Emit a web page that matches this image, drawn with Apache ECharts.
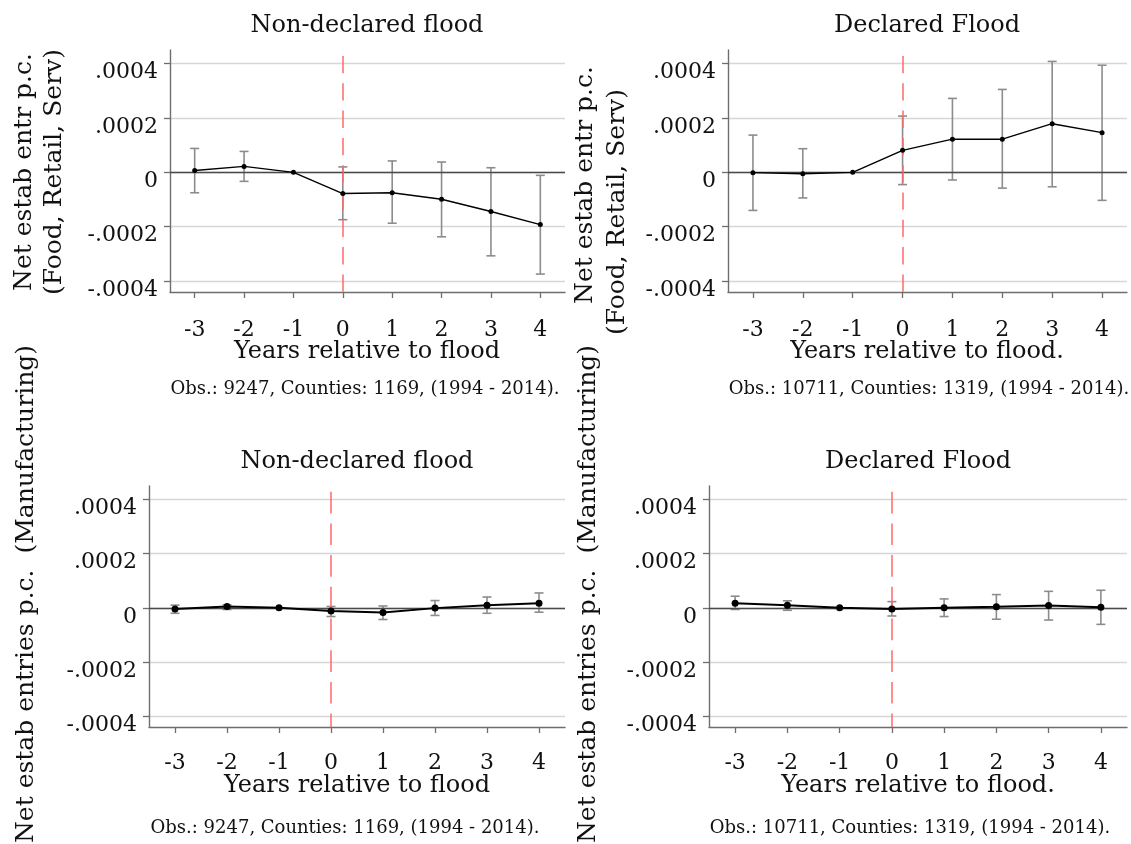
<!DOCTYPE html>
<html>
<head>
<meta charset="utf-8">
<script src="https://cdn.jsdelivr.net/npm/echarts@6/dist/echarts.min.js"></script>
<style>
  html, body { margin: 0; padding: 0; background: #fff; }
  #chart { width: 1131px; height: 844px; }
</style>
</head>
<body>
<div id="chart"></div>
<script>
// Event-study coefficients (point estimate and 95% CI) by year relative to flood
const years = [-3, -2, -1, 0, 1, 2, 3, 4];
const yTicks = [-0.0004, -0.0002, 0, 0.0002, 0.0004];
const yTickLabels = ['-.0004', '-.0002', '0', '.0002', '.0004'];

// Net establishment entries p.c., Food/Retail/Services — non-declared floods
const frsNonDeclEst = [0.000007, 0.000022, 0, -0.000078, -0.000075, -0.000099, -0.000144, -0.000192];
const frsNonDeclHi  = [0.000088, 0.000077, null, 0.000020, 0.000042, 0.000038, 0.000017, -0.000011];
const frsNonDeclLo  = [-0.000075, -0.000033, null, -0.000174, -0.000187, -0.000237, -0.000307, -0.000374];

// Food/Retail/Services — declared floods
const frsDeclEst = [-0.000001, -0.000005, 0, 0.000081, 0.000122, 0.000122, 0.000179, 0.000146];
const frsDeclHi  = [0.000137, 0.000087, null, 0.000207, 0.000272, 0.000305, 0.000408, 0.000394];
const frsDeclLo  = [-0.000140, -0.000094, null, -0.000045, -0.000028, -0.000058, -0.000053, -0.000103];

// Manufacturing — non-declared floods
const mfgNonDeclEst = [-0.000004, 0.000005, 0, -0.000012, -0.000017, -0.000001, 0.000010, 0.000017];
const mfgNonDeclHi  = [0.000010, 0.000011, null, 0.000005, 0.000007, 0.000027, 0.000040, 0.000055];
const mfgNonDeclLo  = [-0.000020, -0.000006, null, -0.000032, -0.000043, -0.000028, -0.000020, -0.000016];

// Manufacturing — declared floods
const mfgDeclEst = [0.000017, 0.000010, 0, -0.000004, 0, 0.000004, 0.000009, 0.000002];
const mfgDeclHi  = [0.000043, 0.000026, null, 0.000023, 0.000033, 0.000049, 0.000061, 0.000065];
const mfgDeclLo  = [-0.000006, -0.000009, null, -0.000030, -0.000032, -0.000042, -0.000045, -0.000061];

const panelTitles = ['Non-declared flood', 'Declared Flood', 'Non-declared flood', 'Declared Flood'];
const xTitles = ['Years relative to flood', 'Years relative to flood.', 'Years relative to flood', 'Years relative to flood.'];
const notes = [
  'Obs.: 9247, Counties: 1169, (1994 - 2014).',
  'Obs.: 10711, Counties: 1319, (1994 - 2014).',
  'Obs.: 9247, Counties: 1169, (1994 - 2014).',
  'Obs.: 10711, Counties: 1319, (1994 - 2014).'
];
const yTitleFrs = ['Net estab entr p.c.', '(Food, Retail, Serv)'];
const yTitleMfg = 'Net estab entries p.c.  (Manufacturing)';

const FONT = '"DejaVu Serif", "Liberation Serif", serif';
const Y_MIN = -0.00044, Y_MAX = 0.00045;

const panels = [
  { est: frsNonDeclEst, lo: frsNonDeclLo, hi: frsNonDeclHi,
    grid: { left: 170, top: 50, width: 395, height: 242 }, labelMargin: 27, big: false, dash: [17.3, 10], dashOffset: 21.3 },
  { est: frsDeclEst, lo: frsDeclLo, hi: frsDeclHi,
    grid: { left: 728, top: 50, width: 399, height: 242 }, labelMargin: 27, big: false, dash: [17.3, 10], dashOffset: 21.3 },
  { est: mfgNonDeclEst, lo: mfgNonDeclLo, hi: mfgNonDeclHi,
    grid: { left: 149, top: 486, width: 416, height: 241 }, labelMargin: 25, big: true, dash: [21.7, 10], dashOffset: 26 },
  { est: mfgDeclEst, lo: mfgDeclLo, hi: mfgDeclHi,
    grid: { left: 709, top: 486, width: 418, height: 241 }, labelMargin: 25, big: true, dash: [21.7, 10], dashOffset: 26 }
];

const grids = [], xAxes = [], yAxes = [], series = [];

panels.forEach((p, i) => {
  grids.push(Object.assign({ containLabel: false }, p.grid));

  xAxes.push({
    type: 'value', gridIndex: i, min: -3.5, max: 4.5,
    axisLine: { show: true, onZero: false, lineStyle: { color: '#6e6e6e', width: 1.4 } },
    axisTick: { show: true, length: 6, customValues: years, lineStyle: { color: '#6e6e6e', width: 1.3 } },
    axisLabel: { customValues: years, margin: p.labelMargin, fontFamily: FONT, fontSize: 22, color: '#111',
                 formatter: v => String(v) },
    splitLine: { show: false }
  });

  yAxes.push({
    type: 'value', gridIndex: i, min: Y_MIN, max: Y_MAX,
    axisLine: { show: true, onZero: false, lineStyle: { color: '#6e6e6e', width: 1.4 } },
    axisTick: { show: true, length: 6, customValues: yTicks, lineStyle: { color: '#6e6e6e', width: 1.3 } },
    axisLabel: { customValues: yTicks, margin: 12, fontFamily: FONT, fontSize: 22, color: '#111',
                 verticalAlign: 'top', lineHeight: 18,
                 formatter: v => {
                   const k = yTicks.findIndex(t => Math.abs(t - v) < 1e-9);
                   return k >= 0 ? yTickLabels[k] : '';
                 } },
    splitLine: { show: true, showMinLine: true, showMaxLine: true, lineStyle: { color: '#d6d6d6', width: 1.3 } }
  });

  // confidence intervals with end caps
  const ciData = years.map((x, k) => [x, p.lo[k], p.hi[k]]).filter(d => d[1] !== null);
  series.push({
    type: 'custom', xAxisIndex: i, yAxisIndex: i, silent: true, z: 3,
    data: ciData,
    renderItem: (params, api) => {
      const x = api.value(0);
      const top = api.coord([x, api.value(2)]);
      const bot = api.coord([x, api.value(1)]);
      const cap = 4.5;
      const style = { stroke: '#8c8c8c', lineWidth: 1.6, fill: null };
      return {
        type: 'group',
        children: [
          { type: 'line', shape: { x1: top[0], y1: top[1], x2: bot[0], y2: bot[1] }, style },
          { type: 'line', shape: { x1: top[0] - cap, y1: top[1], x2: top[0] + cap, y2: top[1] }, style },
          { type: 'line', shape: { x1: bot[0] - cap, y1: bot[1], x2: bot[0] + cap, y2: bot[1] }, style }
        ]
      };
    }
  });

  // point estimates, plus zero reference line and flood-year marker
  series.push({
    type: 'line', xAxisIndex: i, yAxisIndex: i, silent: true, z: 5,
    data: years.map((x, k) => [x, p.est[k]]),
    symbol: 'circle', symbolSize: p.big ? 7 : 5,
    itemStyle: { color: '#000' },
    lineStyle: { color: '#000', width: p.big ? 2 : 1.4 },
    markLine: {
      silent: true, symbol: 'none', label: { show: false }, animation: false,
      data: [
        [{ coord: [-3.5, 0], lineStyle: { color: '#4a4a4a', width: 1.4, type: 'solid' } }, { coord: [4.5, 0] }],
        [{ coord: [0, Y_MAX], lineStyle: { color: '#ff6b6b', width: 1.5, type: p.dash, dashOffset: p.dashOffset } },
         { coord: [0, Y_MIN] }]
      ]
    }
  });
});

function txt(x, y, text, size, extra) {
  return Object.assign({
    type: 'text', x, y, silent: true,
    style: { text, fontFamily: FONT, fontSize: size, fill: '#111', align: 'center', verticalAlign: 'middle' }
  }, extra || {});
}

const centers = [367, 927, 357, 918];
const titleY = [26, 26, 462, 462];
const xTitleY = [352, 352, 786, 786];
const noteX = [365, 929, 345, 910];
const noteY = [389, 389, 828, 828];

const graphics = [];
for (let i = 0; i < 4; i++) {
  graphics.push(txt(centers[i], titleY[i], panelTitles[i], 24));
  graphics.push(txt(centers[i], xTitleY[i], xTitles[i], 24));
  graphics.push(txt(noteX[i], noteY[i], notes[i], 18));
}
// rotated y-axis titles
graphics.push(txt(24, 172, yTitleFrs[0], 25, { rotation: Math.PI / 2 }));
graphics.push(txt(54, 172, yTitleFrs[1], 25, { rotation: Math.PI / 2 }));
graphics.push(txt(585, 185, yTitleFrs[0], 25, { rotation: Math.PI / 2 }));
graphics.push(txt(617, 212, yTitleFrs[1], 25, { rotation: Math.PI / 2 }));
graphics.push({
  type: 'text', x: 26, y: 345, rotation: Math.PI / 2, silent: true,
  style: { text: yTitleMfg, fontFamily: FONT, fontSize: 25, fill: '#111', align: 'right', verticalAlign: 'middle' }
});
graphics.push({
  type: 'text', x: 588, y: 345, rotation: Math.PI / 2, silent: true,
  style: { text: yTitleMfg, fontFamily: FONT, fontSize: 25, fill: '#111', align: 'right', verticalAlign: 'middle' }
});

const chart = echarts.init(document.getElementById('chart'), null, { renderer: 'canvas' });
chart.setOption({
  animation: false,
  backgroundColor: '#fff',
  grid: grids,
  xAxis: xAxes,
  yAxis: yAxes,
  series,
  graphic: { elements: graphics }
});
</script>
</body>
</html>
